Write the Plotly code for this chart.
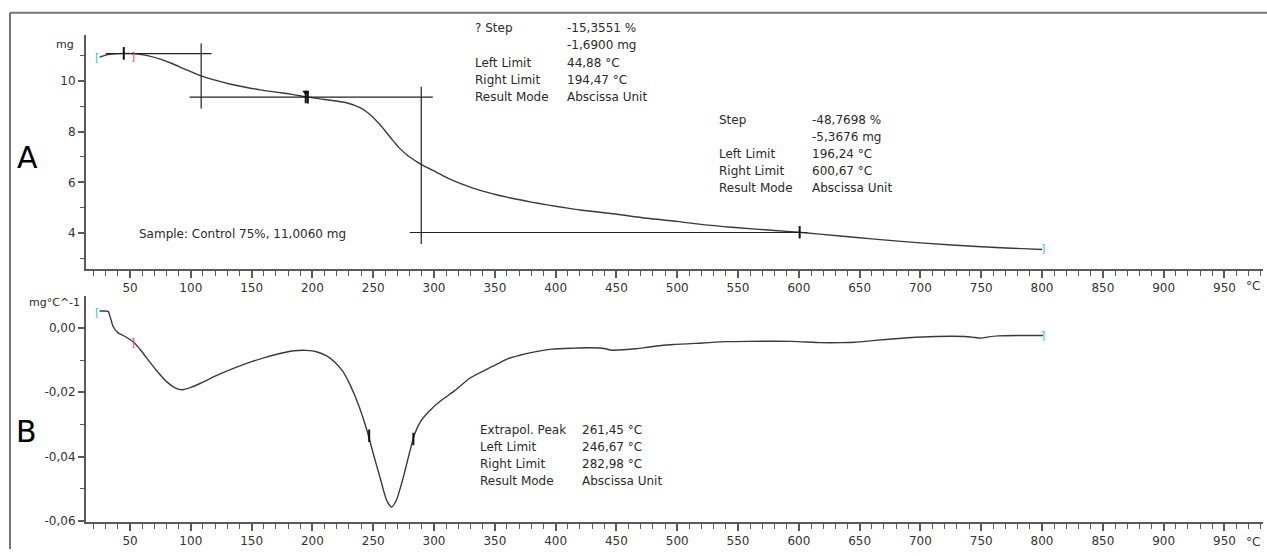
import plotly.graph_objects as go

W, H = 1267, 556

# ---------------- data ----------------
# TGA curve (A): temperature (°C) vs mass (mg)
tga_temp = [25, 30, 35, 40, 46, 52, 58, 66, 75, 85, 95, 109, 120, 132, 145, 157, 170,
            182, 195, 210, 228, 240, 248, 256, 264, 271, 278, 285, 290, 300, 310, 322,
            338, 352, 365, 380, 393, 410, 420, 447, 475, 500, 525, 550, 580, 600, 634,
            660, 700, 750, 800]
tga_mass = [10.94, 11.02, 11.06, 11.08, 11.09, 11.08, 11.05, 10.98, 10.86, 10.68, 10.47,
            10.19, 10.03, 9.88, 9.75, 9.65, 9.56, 9.48, 9.37, 9.27, 9.14, 8.93, 8.65, 8.25,
            7.78, 7.38, 7.07, 6.84, 6.69, 6.45, 6.20, 5.95, 5.68, 5.50, 5.36, 5.22, 5.11,
            4.98, 4.91, 4.76, 4.58, 4.46, 4.31, 4.21, 4.10, 4.03, 3.88, 3.77, 3.61, 3.46,
            3.35]

# DTG curve (B): temperature (°C) vs mg/°C
dtg_temp = [25, 28, 32, 34, 36, 40, 46, 53, 60, 66, 73, 80, 87, 93, 100, 108, 120, 135,
            150, 162, 175, 185, 195, 204, 212, 218, 225, 231, 238, 245, 250, 256, 261,
            265, 269, 275, 280, 284, 289, 297, 305, 317, 330, 348, 360, 376, 397, 415,
            428, 440, 445, 452, 466, 480, 497, 521, 540, 559, 594, 618, 635, 646, 663,
            690, 712, 736, 745, 750, 756, 764, 780, 801]
dtg_val = [0.0052, 0.0052, 0.0051, 0.0030, 0.0005, -0.0015, -0.0027, -0.0045, -0.0075,
           -0.0105, -0.0138, -0.0167, -0.0186, -0.0192, -0.0185, -0.0172, -0.0150,
           -0.0126, -0.0105, -0.0091, -0.0078, -0.0071, -0.0070, -0.0075, -0.0088,
           -0.0105, -0.0135, -0.0177, -0.0240, -0.0320, -0.0390, -0.0470, -0.0535,
           -0.0556, -0.0535, -0.0460, -0.0385, -0.0330, -0.0290, -0.0255, -0.0228,
           -0.0195, -0.0155, -0.0120, -0.0097, -0.0080, -0.0066, -0.0063, -0.0062,
           -0.0064, -0.0069, -0.0069, -0.0065, -0.0058, -0.0052, -0.0047, -0.0043,
           -0.0042, -0.0042, -0.0046, -0.0046, -0.0045, -0.0039, -0.0031, -0.0027,
           -0.0027, -0.0030, -0.0032, -0.0028, -0.0025, -0.0024, -0.0024]

# step evaluation construction lines (A)
step_h_levels = [11.08, 9.365, 4.02]
step_h_from = [30, 99, 280]
step_h_to = [117, 299, 607]
step_v_x = [108.5, 289.5]
step_v_low = [8.91, 3.57]
step_v_high = [11.48, 9.77]

# limit markers
tga_limit_x = [44.88, 194.47, 196.24, 600.67]
tga_limit_y = [11.09, 9.37, 9.36, 4.03]
dtg_limit_x = [246.67, 282.98]
dtg_limit_y = [-0.0335, -0.0345]

# tick label aliases (hyphen minus, as in the original)
yb_alias = {"−0,02": "-0,02", "−0,04": "-0,04", "−0,06": "-0,06"}

step1_rows = [("? Step", "-15,3551 %"), ("", "-1,6900 mg"), ("Left Limit", "44,88 °C"),
              ("Right Limit", "194,47 °C"), ("Result Mode", "Abscissa Unit")]
step2_rows = [("Step", "-48,7698 %"), ("", "-5,3676 mg"), ("Left Limit", "196,24 °C"),
              ("Right Limit", "600,67 °C"), ("Result Mode", "Abscissa Unit")]
peak_rows = [("Extrapol. Peak", "261,45 °C"), ("Left Limit", "246,67 °C"),
             ("Right Limit", "282,98 °C"), ("Result Mode", "Abscissa Unit")]
sample_text = "Sample: Control 75%, 11,0060 mg"

# ---------------- figure ----------------
def px(x, y):
    return x / W, 1 - y / H

CURVE = "#3a3a3a"
AXIS = "#5a5a5a"
FONT = "DejaVu Sans"
TXT = "#2a2a2a"

fig = go.Figure()

fig.add_trace(go.Scatter(x=tga_temp, y=tga_mass, mode="lines",
                         line=dict(color=CURVE, width=1.4, shape="spline", smoothing=0.8),
                         xaxis="x", yaxis="y", hoverinfo="skip"))
fig.add_trace(go.Scatter(x=dtg_temp, y=dtg_val, mode="lines",
                         line=dict(color=CURVE, width=1.4, shape="spline", smoothing=0.6),
                         xaxis="x2", yaxis="y2", hoverinfo="skip"))

for lv, a, b in zip(step_h_levels, step_h_from, step_h_to):
    fig.add_trace(go.Scatter(x=[a, b], y=[lv, lv], mode="lines", line=dict(color="#222", width=1.2),
                             xaxis="x", yaxis="y", hoverinfo="skip"))
for vx, lo, hi in zip(step_v_x, step_v_low, step_v_high):
    fig.add_trace(go.Scatter(x=[vx, vx], y=[lo, hi], mode="lines", line=dict(color="#222", width=1.2),
                             xaxis="x", yaxis="y", hoverinfo="skip"))

fig.add_trace(go.Scatter(x=tga_limit_x, y=tga_limit_y, mode="markers",
                         marker=dict(symbol="line-ns", size=9, line=dict(color="#111", width=2)),
                         xaxis="x", yaxis="y", hoverinfo="skip"))
fig.add_trace(go.Scatter(x=[tga_limit_x[1]], y=[tga_limit_y[1] + 0.18], mode="markers",
                         marker=dict(symbol="triangle-down", size=6, color="#111"),
                         xaxis="x", yaxis="y", hoverinfo="skip"))
fig.add_trace(go.Scatter(x=dtg_limit_x, y=dtg_limit_y, mode="markers",
                         marker=dict(symbol="line-ns", size=9, line=dict(color="#111", width=2)),
                         xaxis="x2", yaxis="y2", hoverinfo="skip"))

x_range = [13.8, 981.7]
xdom = [86 / W, 1263 / W]
TICKFONT = dict(family=FONT, size=12, color="#333")

def xaxis_def(anchor):
    return dict(domain=xdom, range=x_range, anchor=anchor, showline=True, linecolor=AXIS,
                linewidth=2, showgrid=False, zeroline=False, ticks="outside", ticklen=7,
                tickwidth=1.5, tickcolor=AXIS, tickmode="linear", tick0=0, dtick=50,
                tickfont=TICKFONT,
                minor=dict(ticks="outside", ticklen=5, tickwidth=1.3, tickcolor=AXIS,
                           dtick=10, tick0=0, showgrid=False))

def yaxis_def(anchor, dom, rng, dt, mdt, fmt, alias=None):
    d = dict(domain=dom, range=rng, anchor=anchor, showline=True, linecolor=AXIS,
             linewidth=2, showgrid=False, zeroline=False, ticks="outside", ticklen=6,
             tickwidth=1.5, tickcolor=AXIS, tickmode="linear", tick0=0, dtick=dt,
             tickformat=fmt, tickfont=TICKFONT,
             minor=dict(ticks="outside", ticklen=4, tickwidth=1.3, tickcolor=AXIS,
                        dtick=mdt, tick0=0, showgrid=False))
    if alias:
        d["labelalias"] = alias
    return d

annotations = []

def txt(x, y, s, size=12, color=TXT, xanchor="left"):
    ax, ay = px(x, y)
    annotations.append(dict(x=ax, y=ay, xref="paper", yref="paper", text=s, showarrow=False,
                            xanchor=xanchor, yanchor="middle",
                            font=dict(family=FONT, size=size, color=color)))

for i, (lab, val) in enumerate(step1_rows):
    yy = 28.5 + i * 17.5
    if lab:
        txt(473, yy, lab)
    txt(565, yy, val)
for i, (lab, val) in enumerate(step2_rows):
    yy = 121.5 + i * 17.3
    if lab:
        txt(717, yy, lab)
    txt(810, yy, val)
for i, (lab, val) in enumerate(peak_rows):
    yy = 435.5 + i * 17.3
    txt(478, yy, lab)
    txt(580, yy, val)

txt(137, 237, sample_text)
txt(76, 45, "mg", size=11, xanchor="right")
txt(82, 306, "mg°C^-1", size=11, xanchor="right")
txt(1253, 290, "°C", size=12, color="#333", xanchor="center")
txt(1253, 549, "°C", size=12, color="#333", xanchor="center")
txt(27, 160, "A", size=30, color="#000", xanchor="center")
txt(26, 437, "B", size=30, color="#000", xanchor="center")
txt(97, 58, "[", size=11, color="#33c6c6", xanchor="center")
txt(97, 316, "[", size=11, color="#33c6c6", xanchor="center")
txt(1043, 252, "]", size=11, color="#33c6c6", xanchor="center")
txt(1043, 340, "]", size=11, color="#33c6c6", xanchor="center")
txt(133, 57, "]", size=11, color="#ff4040", xanchor="center")
txt(133, 347, "]", size=11, color="#ff4040", xanchor="center")

fx0, fy0 = px(10, 13)
shapes = [
    dict(type="line", xref="paper", yref="paper", x0=fx0, x1=1.0, y0=fy0, y1=fy0,
         line=dict(color="#777", width=2)),
    dict(type="line", xref="paper", yref="paper", x0=fx0, x1=fx0, y0=0, y1=fy0,
         line=dict(color="#777", width=2)),
]

fig.update_layout(
    width=W, height=H, margin=dict(l=0, r=0, t=0, b=0),
    paper_bgcolor="white", plot_bgcolor="white", showlegend=False,
    separators=",.",
    xaxis=xaxis_def("y"),
    yaxis=yaxis_def("x", [1 - 272 / H, 1 - 35 / H], [2.597, 11.831], 2, 1, "d"),
    xaxis2=xaxis_def("y2"),
    yaxis2=yaxis_def("x2", [1 - 528.5 / H, 1 - 300 / H], [-0.0602, 0.0098], 0.02, 0.01, ".2f",
                     yb_alias),
    annotations=annotations, shapes=shapes,
)

fig.write_html("out.html")
